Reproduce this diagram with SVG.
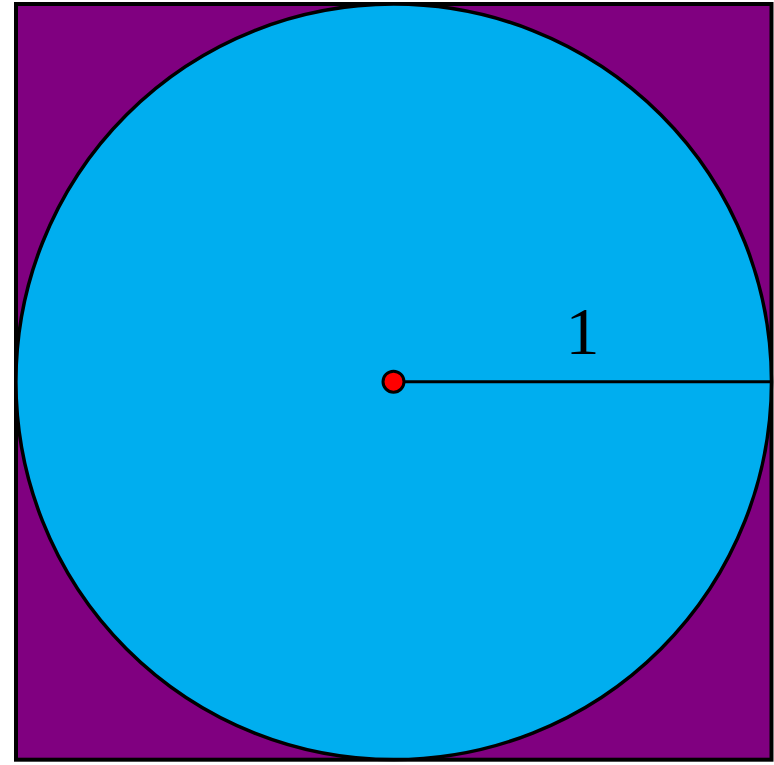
<svg xmlns="http://www.w3.org/2000/svg" width="774" height="765" viewBox="0 0 774 765">
<style>
.ln{stroke:#000;fill:none}
.lbl{font-family:"Liberation Serif","DejaVu Serif",serif;font-size:68px;fill:#000}
</style>
<rect width="774" height="765" fill="#fff"/>
<g id="square"><rect x="16" y="4" width="755.5" height="755.7" fill="#800080" stroke="#000" stroke-width="4"/></g>
<g id="circle"><circle cx="393.7" cy="381.8" r="377.8" fill="#00AEEF" stroke="#000" stroke-width="3.5"/></g>
<g id="connectors"><line class="ln" x1="393.5" y1="381.7" x2="771.5" y2="381.7" stroke-width="3"/></g>
<g id="center"><circle cx="393.5" cy="381.7" r="10.5" fill="#FF0000" stroke="#000" stroke-width="3"/></g>
<g id="label"><text class="lbl" x="582.5" y="354" text-anchor="middle">1</text></g>
</svg>
